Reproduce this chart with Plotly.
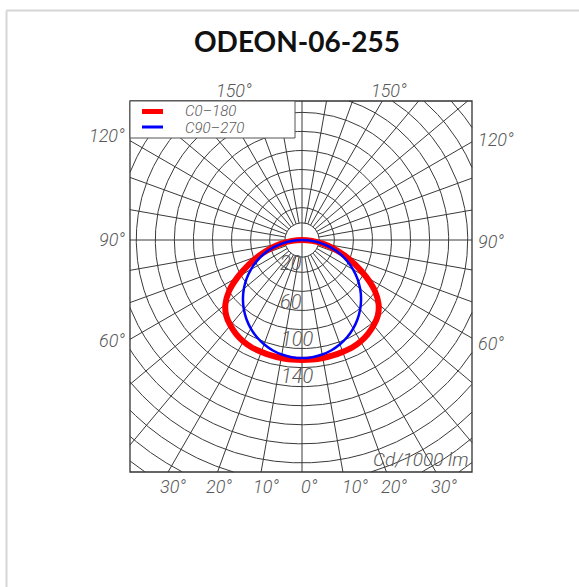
import numpy as np
import plotly.graph_objects as go

# ---------------- data ----------------
TITLE = "ODEON-06-255"
SERIES_NAMES = ["C0\u2013180", "C90\u2013270"]
ANGLES = [0, 5, 10, 15, 20, 25, 30, 35, 40, 45, 50, 55, 60, 65, 70, 75, 80, 85, 90]
C0_180 = [126, 126, 125.8, 125.5, 125, 124.5, 123, 120.5, 117, 112.5, 105, 93.5, 78, 62, 47.5, 34.6, 22, 10.5, 0]
C90_270 = [124, 123.5, 122.1, 119.8, 116.5, 112.4, 107.4, 101.6, 95, 87.7, 79.7, 71.1, 62, 52.4, 42.4, 32.1, 21.5, 10.8, 0]
RADIAL_TICKS = ["20", "60", "100", "140"]
BOTTOM_TICKS = ["30\u00b0", "20\u00b0", "10\u00b0", "0\u00b0", "10\u00b0", "20\u00b0", "30\u00b0"]
SIDE_TICKS = ["120\u00b0", "90\u00b0", "60\u00b0"]
TOP_TICK = "150\u00b0"
UNIT_LABEL = "Cd/1000 lm"

# ---------------- geometry (page pixels -> chart units) ----------------
W, H = 579, 587
CX, CY = 302, 240          # pixel position of the luminaire centre
K = 0.9525                 # pixels per cd/klm
GRID_INNER = 18
GRID_R0, GRID_STEP, GRID_N = 34, 20, 16
GRID_ANGLE_STEP = 10


def X(px):
    return (px - CX) / K


def Y(py):
    return (CY - py) / K


FL, FR, FT, FB = X(130), X(472), Y(101), Y(472)   # frame

fig = go.Figure()

# ---------------- grid ----------------
gx, gy = [], []
phi = np.radians(np.linspace(0, 360, 2881))
radii = [GRID_INNER] + [GRID_R0 + GRID_STEP * k for k in range(GRID_N)]
for r in radii:
    xs = r * np.sin(phi)
    ys = r * np.cos(phi)
    inside = (xs >= FL) & (xs <= FR) & (ys >= FB) & (ys <= FT)
    for xv, yv, ok in zip(xs, ys, inside):
        if ok:
            gx.append(float(xv))
            gy.append(float(yv))
        else:
            if gx and gx[-1] is not None:
                gx.append(None)
                gy.append(None)
    gx.append(None)
    gy.append(None)

for a in range(0, 360, GRID_ANGLE_STEP):
    t = np.radians(a)
    dx, dy = np.sin(t), np.cos(t)
    cands = []
    if dx > 1e-9:
        cands.append(FR / dx)
    elif dx < -1e-9:
        cands.append(FL / dx)
    if dy > 1e-9:
        cands.append(FT / dy)
    elif dy < -1e-9:
        cands.append(FB / dy)
    tmax = min(cands)
    r_start = 0 if a % 90 == 0 else GRID_INNER
    gx += [r_start * dx, tmax * dx, None]
    gy += [r_start * dy, tmax * dy, None]

fig.add_trace(go.Scatter(x=gx, y=gy, mode="lines",
                         line=dict(color="#3a3a3a", width=1),
                         hoverinfo="skip", showlegend=False))


# ---------------- curves ----------------
def curve(vals):
    ang = [-a for a in ANGLES[::-1]] + ANGLES[1:]
    rr = vals[::-1] + vals[1:]
    th = np.radians(ang)
    return (np.array(rr) * np.sin(th)).tolist(), (-np.array(rr) * np.cos(th)).tolist()


x1, y1 = curve(C0_180)
fig.add_trace(go.Scatter(x=x1, y=y1, mode="lines", name=SERIES_NAMES[0],
                         line=dict(color="#ff0000", width=6, shape="spline", smoothing=0.8),
                         showlegend=False))
x2, y2 = curve(C90_270)
fig.add_trace(go.Scatter(x=x2, y=y2, mode="lines", name=SERIES_NAMES[1],
                         line=dict(color="#0000ff", width=2.5, shape="spline", smoothing=0.8),
                         showlegend=False))

shapes = []
# card border
shapes.append(dict(type="line", xref="x", yref="y", x0=X(6.5), x1=X(6.5), y0=Y(10.5), y1=Y(H),
                   line=dict(color="#d6d6d6", width=2)))
shapes.append(dict(type="line", xref="x", yref="y", x0=X(6.5), x1=X(W), y0=Y(10.5), y1=Y(10.5),
                   line=dict(color="#d6d6d6", width=2)))
# frame
shapes.append(dict(type="rect", xref="x", yref="y", x0=FL, x1=FR, y0=FB, y1=FT,
                   line=dict(color="#333333", width=1.3)))
# legend box
shapes.append(dict(type="rect", xref="x", yref="y", x0=FL, x1=X(295), y0=Y(138), y1=FT,
                   fillcolor="white", line=dict(color="#555555", width=1)))
shapes.append(dict(type="line", xref="x", yref="y", x0=X(142), x1=X(163), y0=Y(111.5), y1=Y(111.5),
                   line=dict(color="#ff0000", width=5)))
shapes.append(dict(type="line", xref="x", yref="y", x0=X(142), x1=X(163), y0=Y(127), y1=Y(127),
                   line=dict(color="#0000ff", width=3)))

GRAY = "#585858"
TFONT = dict(family="Roboto, Liberation Sans", size=17, weight=300,
             color=GRAY, style="italic")
ann = []


def label(text, px, py, size=17, xanchor="center"):
    f = dict(TFONT)
    f["size"] = size
    ann.append(dict(text=text, x=X(px), y=Y(py), xref="x", yref="y", showarrow=False,
                    xanchor=xanchor, yanchor="middle", font=f))


label(SERIES_NAMES[0], 183, 110.5, 15, "left")
label(SERIES_NAMES[1], 183, 128, 15, "left")
label(TOP_TICK, 234, 90, 18)
label(TOP_TICK, 389, 90, 18)
for t, yl, yr in zip(SIDE_TICKS, [135, 239, 340], [139, 241, 343]):
    label(t, 127, yl, 18, "right")
    label(t, 476, yr, 18, "left")
for t, px in zip(BOTTOM_TICKS, [173, 219, 266, 309, 355, 394, 444]):
    label(t, px, 486, 18)
for t, (px, py) in zip(RADIAL_TICKS, [(291, 263), (291, 302), (297, 339), (297, 376)]):
    label(t, px, py, 20)
label(UNIT_LABEL, 421, 459, 19)

ann.append(dict(text="<b>" + TITLE + "</b>", x=297 / W, y=1 - 41 / H, xref="paper", yref="paper",
                showarrow=False, xanchor="center", yanchor="middle",
                font=dict(family="Lato, Inter, sans-serif", size=28, color="#111111")))

fig.update_layout(
    width=W, height=H, autosize=False,
    margin=dict(l=0, r=0, t=0, b=0, pad=0),
    paper_bgcolor="white", plot_bgcolor="white",
    xaxis=dict(range=[X(0), X(W)], visible=False, fixedrange=True),
    yaxis=dict(range=[Y(H), Y(0)], visible=False, fixedrange=True),
    shapes=shapes, annotations=ann, showlegend=False,
)

fig.write_html("out.html", config={"displayModeBar": False},
               post_script="document.body.style.margin='0';document.body.style.overflow='hidden';")
